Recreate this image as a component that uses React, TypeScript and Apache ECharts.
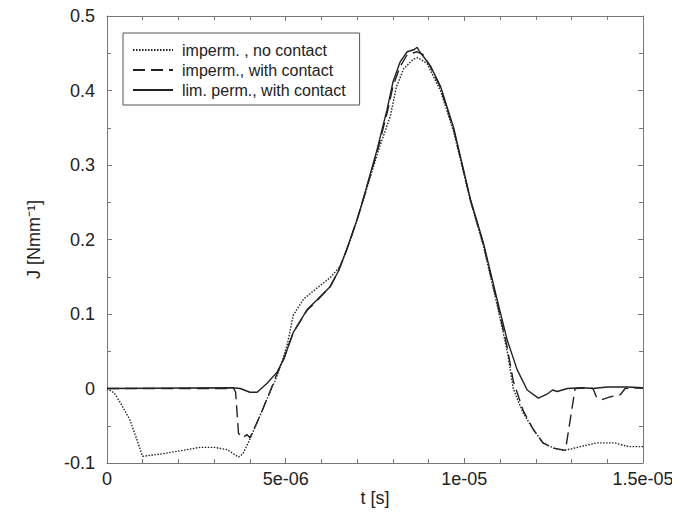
import React, { useEffect, useRef } from "react";
import * as echarts from "echarts";

// time in microseconds (axis labels show seconds)
const tNoContact = [0, 0.2, 0.36, 0.5, 0.64, 0.84, 0.98, 1.0, 1.5, 2.0, 2.6, 3.0, 3.36, 3.55, 3.68, 3.8, 4.0, 4.25, 4.47, 4.7, 4.89, 5.05, 5.21, 5.5, 5.88, 6.25, 6.53, 6.81, 7.09, 7.28, 7.6, 7.93, 8.1, 8.3, 8.57, 8.7, 8.96, 9.33, 9.7, 10.17, 10.53, 10.92, 11.2, 11.37, 11.5, 11.65, 11.93, 12.2, 12.5, 12.75, 13.0, 13.25, 13.7, 14.2, 14.6, 15];
const jNoContact = [0, -0.006, -0.018, -0.03, -0.042, -0.069, -0.089, -0.091, -0.088, -0.084, -0.079, -0.079, -0.082, -0.088, -0.092, -0.088, -0.068, -0.04, -0.015, 0.01, 0.035, 0.06, 0.098, 0.12, 0.135, 0.149, 0.164, 0.2, 0.24, 0.27, 0.32, 0.366, 0.405, 0.429, 0.442, 0.444, 0.436, 0.4, 0.345, 0.252, 0.192, 0.112, 0.05, 0.0, -0.016, -0.033, -0.055, -0.073, -0.08, -0.083, -0.081, -0.078, -0.073, -0.073, -0.078, -0.078];

const tWithContact = [0, 3.55, 3.6, 3.68, 3.78, 3.92, 4.0, 4.25, 4.47, 4.76, 4.95, 5.21, 5.6, 5.88, 6.25, 6.47, 6.72, 7.0, 7.17, 7.56, 7.84, 8.0, 8.2, 8.4, 8.68, 8.85, 9.05, 9.33, 9.7, 10.17, 10.53, 10.92, 11.2, 11.37, 11.65, 11.93, 12.2, 12.5, 12.83, 13.1, 13.5, 13.6, 13.7, 13.85, 14.1, 14.37, 14.5, 15];
const jWithContact = [0, 0, -0.005, -0.06, -0.066, -0.062, -0.066, -0.04, -0.015, 0.02, 0.04, 0.075, 0.105, 0.118, 0.137, 0.157, 0.188, 0.227, 0.254, 0.318, 0.37, 0.405, 0.432, 0.448, 0.452, 0.448, 0.432, 0.404, 0.348, 0.253, 0.194, 0.115, 0.055, 0.01, -0.03, -0.055, -0.073, -0.08, -0.083, 0, 0.001, 0, -0.012, -0.015, -0.011, -0.008, 0, 0.001];

const tLimPerm = [0, 3.5, 3.73, 4.0, 4.2, 4.48, 4.76, 4.95, 5.21, 5.6, 5.88, 6.25, 6.47, 6.72, 7.0, 7.17, 7.56, 7.84, 8.0, 8.2, 8.4, 8.6, 8.68, 8.75, 8.85, 9.05, 9.33, 9.7, 10.17, 10.53, 10.92, 11.2, 11.48, 11.76, 12.07, 12.3, 12.47, 12.6, 12.88, 13.3, 13.6, 14.0, 14.56, 15];
const jLimPerm = [0, 0.001, 0, -0.005, -0.005, 0.007, 0.022, 0.04, 0.075, 0.106, 0.119, 0.137, 0.157, 0.188, 0.227, 0.254, 0.321, 0.375, 0.411, 0.438, 0.452, 0.455, 0.458, 0.452, 0.446, 0.433, 0.406, 0.35, 0.254, 0.196, 0.119, 0.065, 0.025, -0.002, -0.013, -0.008, -0.002, -0.004, 0, 0.001, 0, 0.002, 0.002, 0.001];

const seriesNames = ["imperm. , no contact", "imperm., with contact", "lim. perm., with contact"];
const xTickLabels: Record<number, string> = { 0: "0", 5: "5e-06", 10: "1e-05", 15: "1.5e-05" };

const FONT = "Liberation Sans";
const zip = (t: number[], j: number[]) => t.map((v, i) => [v, j[i]]);

export default function App() {
  const ref = useRef<HTMLDivElement>(null);
  useEffect(() => {
    if (!ref.current) return;
    const chart = echarts.init(ref.current, undefined, { renderer: "svg" });
    const axisLine = { show: true, onZero: false, lineStyle: { color: "#777", width: 1 } };
    const tick = { show: true, inside: true, length: 5, lineStyle: { color: "#777" } };
    const minor = { length: 4, lineStyle: { color: "#777" } };
    const baseX = {
      type: "value" as const,
      min: 0,
      max: 15,
      interval: 5,
      axisLine,
      axisTick: tick,
      minorTick: { show: true, splitNumber: 5, ...minor },
      splitLine: { show: false },
    };
    const baseY = {
      type: "value" as const,
      min: -0.1,
      max: 0.5,
      interval: 0.1,
      axisLine,
      axisTick: tick,
      minorTick: { show: true, splitNumber: 2, ...minor },
      splitLine: { show: false },
    };
    chart.setOption({
      animation: false,
      backgroundColor: "#fff",
      textStyle: { fontFamily: FONT },
      grid: { left: 107, right: 37, top: 16, bottom: 55 },
      legend: {
        left: 123,
        top: 33,
        orient: "vertical",
        itemWidth: 40,
        itemHeight: 16,
        itemGap: 4,
        padding: [9, 14, 7, 9],
        borderColor: "#555",
        borderWidth: 1,
        borderRadius: 0,
        backgroundColor: "#fff",
        itemStyle: { opacity: 0, color: "rgba(0,0,0,0)", borderColor: "rgba(0,0,0,0)", borderWidth: 0 },
        textStyle: { fontFamily: FONT, fontSize: 16, color: "#222", padding: [0, 0, 0, 4] },
        data: seriesNames,
      },
      xAxis: [
        {
          ...baseX,
          position: "bottom",
          name: "t [s]",
          nameLocation: "middle",
          nameGap: 26,
          nameMoveOverlap: false,
          nameTextStyle: { fontFamily: FONT, fontSize: 18, color: "#222", verticalAlign: "top" },
          axisLabel: {
            fontFamily: FONT,
            fontSize: 18,
            color: "#222",
            margin: 7,
            formatter: (v: number) => xTickLabels[v] ?? "",
          },
        },
        { ...baseX, position: "top", axisLabel: { show: false } },
      ],
      yAxis: [
        {
          ...baseY,
          position: "left",
          name: "J [Nmm⁻¹]",
          nameLocation: "middle",
          nameGap: 64,
          nameRotate: 90,
          nameTextStyle: { fontFamily: FONT, fontSize: 18, color: "#222" },
          axisLabel: {
            fontFamily: FONT,
            fontSize: 18,
            color: "#222",
            margin: 12,
            formatter: (v: number) => (Math.abs(v) < 1e-9 ? "0" : String(Math.round(v * 10) / 10)),
          },
        },
        { ...baseY, position: "right", axisLabel: { show: false } },
      ],
      series: [
        {
          name: seriesNames[0],
          type: "line",
          symbol: "none",
          data: zip(tNoContact, jNoContact),
          lineStyle: { color: "#222", width: 1.4, type: [1.5, 1.5] },
          itemStyle: { color: "#222" },
          z: 3,
        },
        {
          name: seriesNames[1],
          type: "line",
          symbol: "none",
          data: zip(tWithContact, jWithContact),
          lineStyle: { color: "#222", width: 1.4, type: [12, 6] },
          itemStyle: { color: "#222" },
          z: 4,
        },
        {
          name: seriesNames[2],
          type: "line",
          symbol: "none",
          data: zip(tLimPerm, jLimPerm),
          lineStyle: { color: "#222", width: 1.4, type: "solid" },
          itemStyle: { color: "#222" },
          z: 5,
        },
      ],
    });
    return () => chart.dispose();
  }, []);
  return <div ref={ref} style={{ width: 680, height: 518, margin: -8 }} />;
}
